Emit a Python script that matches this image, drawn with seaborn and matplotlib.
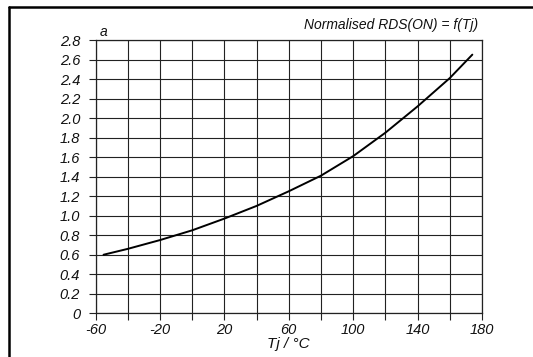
import matplotlib
matplotlib.use("Agg")
import matplotlib.pyplot as plt
import seaborn as sns
import pandas as pd
from matplotlib.lines import Line2D

# data
tj = [-55, -40, -20, 0, 20, 40, 60, 80, 100, 120, 140, 160, 174]
rds = [0.60, 0.66, 0.75, 0.85, 0.97, 1.10, 1.25, 1.41, 1.61, 1.85, 2.12, 2.41, 2.65]
x_labels = [-60, -20, 20, 60, 100, 140, 180]
x_minor = [-40, 0, 40, 80, 120, 160]
y_ticks = [0, 0.2, 0.4, 0.6, 0.8, 1.0, 1.2, 1.4, 1.6, 1.8, 2.0, 2.2, 2.4, 2.6, 2.8]
y_labels = ["0"] + [f"{v:.1f}" for v in y_ticks[1:]]

sns.set_theme(style="white")
plt.rcParams['font.family'] = ['Liberation Sans', 'DejaVu Sans']
plt.rcParams['font.style'] = 'italic'

fig = plt.figure(figsize=(5.33, 3.57), dpi=100)
ax = fig.add_axes([95.5/533, 1-313.3/357, (482-95.5)/533, (313.3-40)/357])

df = pd.DataFrame({"Tj": tj, "R": rds})
sns.lineplot(data=df, x="Tj", y="R", ax=ax, color="black", linewidth=1.4)

ax.set_xlim(-60, 180)
ax.set_ylim(0, 2.8)
ax.set_xticks(x_labels)
ax.set_xticklabels([str(v) for v in x_labels], fontsize=10.5, style='italic')
ax.set_xticks(x_minor, minor=True)
ax.set_yticks(y_ticks)
ax.set_yticklabels(y_labels, fontsize=10.5, style='italic')
ax.grid(True, which='both', color='#222222', linewidth=0.8)
ax.set_axisbelow(True)
ax.tick_params(which='both', direction='out', length=5, width=0.8, color='#222222',
               bottom=True, left=True, pad=2, labelcolor='#111111')
ax.tick_params(axis='y', pad=6)
for s in ax.spines.values():
    s.set_color('#222222')
    s.set_linewidth(0.9)
ax.set_xlabel("Tj / °C", fontsize=11, style='italic', labelpad=0, color='#111111')
ax.set_ylabel("")
ax.text(0.01, 1.005, "a", transform=ax.transAxes, fontsize=10, style='italic',
        ha='left', va='bottom', color='#111111')
ax.text(0.99, 1.03, "Normalised RDS(ON) = f(Tj)", transform=ax.transAxes, fontsize=10,
        style='italic', ha='right', va='bottom', color='#111111')

# outer frame (left and top edges)
fig.add_artist(Line2D([9/533, 9/533], [0, 1-7/357], transform=fig.transFigure,
                      color='black', linewidth=1.8))
fig.add_artist(Line2D([9/533, 1], [1-7/357, 1-7/357], transform=fig.transFigure,
                      color='black', linewidth=1.8))

fig.savefig("out.png", dpi=100, facecolor='white')
